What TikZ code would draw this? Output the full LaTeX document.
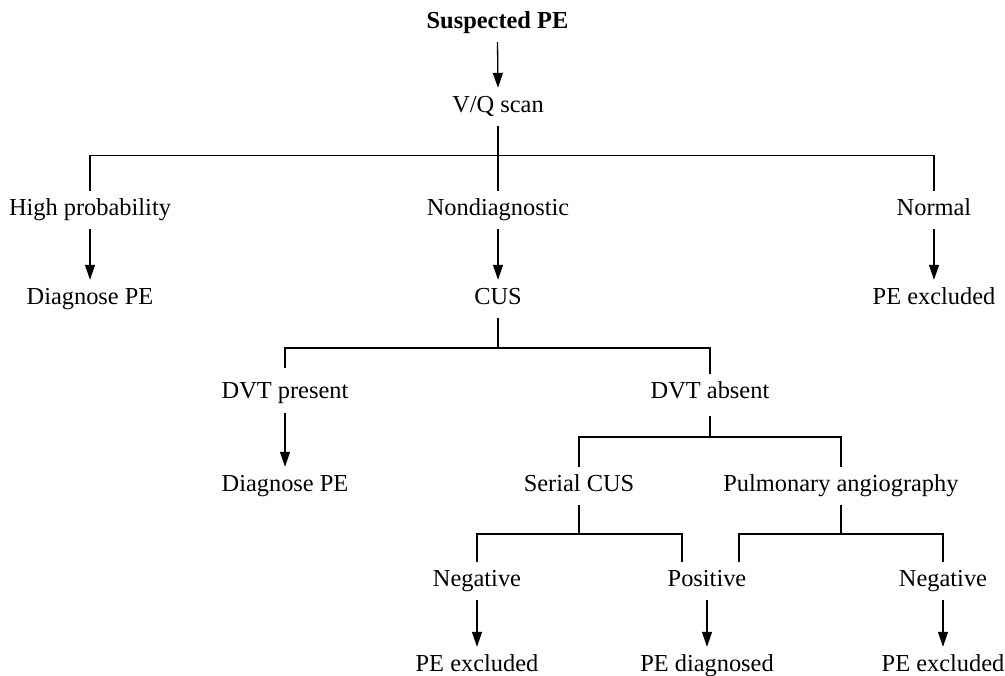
\documentclass[tikz,border=0pt]{standalone}
\usepackage{fontspec}
\setmainfont{Liberation Serif}
\usetikzlibrary{arrows.meta}
\begin{document}
\begin{tikzpicture}[x=1pt,y=-1pt,
  lbl/.style={inner sep=0pt, minimum height=38pt, text height=16pt, text depth=5pt,
              font=\fontsize{24.4}{28}\selectfont},
  link/.style={line width=1.3pt},
  arr/.style={line width=1.3pt, -{Triangle[length=15pt,width=10pt]}}]
\useasboundingbox (0,0) rectangle (1005,676);

% labels
\node[lbl, font=\fontsize{24.4}{28}\selectfont\bfseries] (sus) at (497.5,23) {Suspected PE};
\node[lbl] (vq)   at (498,107) {V/Q scan};
\node[lbl] (hp)   at (90,210)  {High probability};
\node[lbl] (nd)   at (498,210) {Nondiagnostic};
\node[lbl] (nm)   at (934,210) {Normal};
\node[lbl] (dp1)  at (90,299)  {Diagnose PE};
\node[lbl] (cus)  at (498,299) {CUS};
\node[lbl] (pex1) at (934,299) {PE excluded};
\node[lbl] (dvtp) at (285,393) {DVT present};
\node[lbl] (dvta) at (710,393) {DVT absent};
\node[lbl] (dp2)  at (285,486) {Diagnose PE};
\node[lbl] (ser)  at (579,486) {Serial CUS};
\node[lbl] (pa)   at (841,486) {Pulmonary angiography};
\node[lbl] (neg1) at (477,581) {Negative};
\node[lbl] (pos)  at (707,581) {Positive};
\node[lbl] (neg2) at (943,581) {Negative};
\node[lbl] (pex2) at (477,666) {PE excluded};
\node[lbl] (pdg)  at (707,666) {PE diagnosed};
\node[lbl] (pex3) at (943,666) {PE excluded};

% branch levels
\coordinate (j1) at (498,155.5);
\coordinate (j2) at (498,348);
\coordinate (j3) at (710,437);
\coordinate (j4) at (579,534);
\coordinate (j5) at (841,534);
\coordinate (pl) at (682,534);
\coordinate (pr) at (739,534);

% arrows
\draw[arr] (sus.south) -- (vq.north);
\draw[arr] (hp.south) -- (dp1.north);
\draw[arr] (nd.south) -- (cus.north);
\draw[arr] (nm.south) -- (pex1.north);
\draw[arr] ([yshift=-1pt]dvtp.south) -- (dp2.north);
\draw[arr] (neg1.south) -- (pex2.north);
\draw[arr] (pos.south) -- (pdg.north);
\draw[arr] (neg2.south) -- (pex3.north);

% first split
\draw[link] (vq.south) -- (nd.north);
\draw[link] (hp.north) -- (hp.north |- j1) -- (nm.north |- j1) -- (nm.north);

% CUS split
\draw[link] (cus.south) -- (j2);
\draw[link] ([yshift=6pt]dvtp.north) -- (dvtp.north |- j2) -- (dvta.north |- j2) -- (dvta.north);

% DVT absent split
\draw[link] ([yshift=-4pt]dvta.south) -- (j3);
\draw[link] (ser.north) -- (ser.north |- j3) -- (pa.north |- j3) -- (pa.north);

% serial CUS split
\draw[link] (ser.south) -- (j4);
\draw[link] (neg1.north) -- (neg1.north |- j4) -- (pl) -- (pl |- pos.north);

% angiography split
\draw[link] (pa.south) -- (j5);
\draw[link] (pr |- pos.north) -- (pr) -- (neg2.north |- j5) -- (neg2.north);
\end{tikzpicture}
\end{document}
